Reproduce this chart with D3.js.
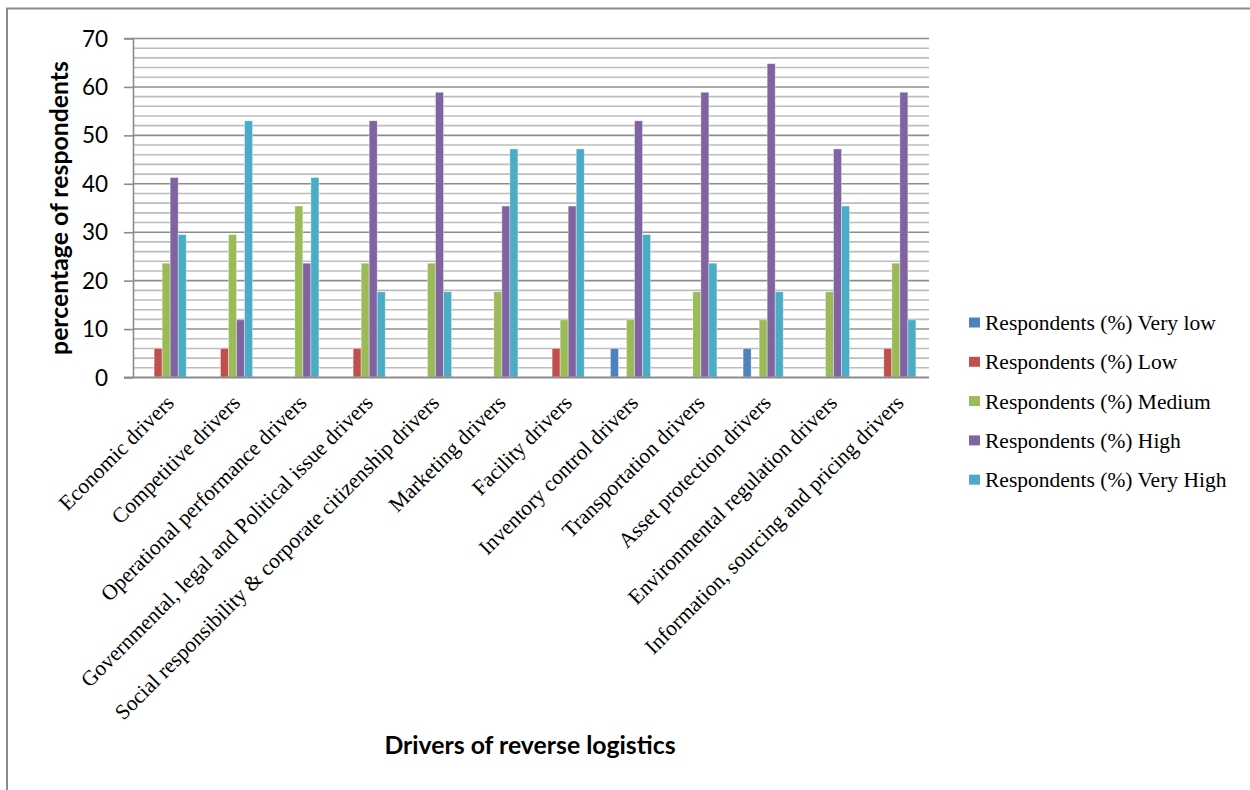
<!DOCTYPE html>
<html>
<head>
<meta charset="utf-8">
<script src="https://cdn.jsdelivr.net/npm/d3@7"></script>
<style>
  html, body { margin: 0; padding: 0; background: #fff; }
  svg { display: block; }
</style>
</head>
<body>
<svg id="chart" width="1250" height="790"></svg>
<script>
// Drivers of reverse logistics: share of respondents per rating level
const categories = [
  "Economic drivers",
  "Competitive drivers",
  "Operational performance drivers",
  "Governmental, legal and Political issue drivers",
  "Social responsibility & corporate citizenship drivers",
  "Marketing drivers",
  "Facility drivers",
  "Inventory control drivers",
  "Transportation drivers",
  "Asset protection drivers",
  "Environmental regulation drivers",
  "Information, sourcing and pricing drivers"
];
const seriesNames = [
  "Respondents (%) Very low",
  "Respondents (%) Low",
  "Respondents (%) Medium",
  "Respondents (%) High",
  "Respondents (%) Very High"
];
const veryLow  = [0, 0, 0, 0, 0, 0, 0, 5.9, 0, 5.9, 0, 0];
const low      = [5.9, 5.9, 0, 5.9, 0, 0, 5.9, 0, 0, 0, 0, 5.9];
const medium   = [23.5, 29.4, 35.3, 23.5, 23.5, 17.6, 11.8, 11.8, 17.6, 11.8, 17.6, 23.5];
const high     = [41.2, 11.8, 23.5, 52.9, 58.8, 35.3, 35.3, 52.9, 58.8, 64.7, 47.1, 58.8];
const veryHigh = [29.4, 52.9, 41.2, 17.6, 17.6, 47.1, 47.1, 29.4, 23.5, 17.6, 35.3, 11.8];
const seriesValues = [veryLow, low, medium, high, veryHigh];
const yTicks = [0, 10, 20, 30, 40, 50, 60, 70];
const colors = ["#4F81BD", "#C0504D", "#9BBB59", "#8064A2", "#4BACC6"];

const svg = d3.select("#chart");

// outer frame
svg.append("rect")
  .attr("x", 7).attr("y", 8.5)
  .attr("width", 1300).attr("height", 900)
  .attr("fill", "none").attr("stroke", "#8a8a8a").attr("stroke-width", 2);

const plot = { left: 133, right: 929, top: 38, bottom: 377 };

const x0 = d3.scaleBand()
  .domain(categories)
  .range([plot.left, plot.right])
  .paddingInner(0.395).paddingOuter(0.1975);
const x1 = d3.scaleBand()
  .domain(d3.range(seriesNames.length))
  .range([0, x0.bandwidth()]);
const y = d3.scaleLinear().domain([0, 70]).range([plot.bottom, plot.top]);

// minor gridlines every 2 units
const minor = d3.range(0, 71, 2).filter(v => v % 10 !== 0);
svg.append("g").selectAll("line").data(minor).join("line")
  .attr("x1", plot.left).attr("x2", plot.right)
  .attr("y1", d => y(d) + 0.5).attr("y2", d => y(d) + 0.5)
  .attr("stroke", "#bdbdbd").attr("stroke-width", 1.6);

// major gridlines every 10 units
svg.append("g").selectAll("line").data(yTicks.filter(v => v > 0)).join("line")
  .attr("x1", plot.left).attr("x2", plot.right)
  .attr("y1", d => y(d) + 0.5).attr("y2", d => y(d) + 0.5)
  .attr("stroke", "#8c8c8c").attr("stroke-width", 1.6);

// bars
const rows = categories.map((c, i) => ({ c, vals: seriesValues.map(s => s[i]) }));
const groups = svg.append("g").selectAll("g").data(rows).join("g")
  .attr("transform", d => `translate(${x0(d.c)},0)`);
groups.selectAll("rect")
  .data(d => d.vals.map((v, k) => ({ v, k })).filter(e => e.v > 0))
  .join("rect")
  .attr("x", d => x1(d.k))
  .attr("width", x1.bandwidth())
  .attr("y", d => y(d.v))
  .attr("height", d => y(0) - y(d.v))
  .attr("fill", d => colors[d.k])
  .attr("stroke", "rgba(255,255,255,0.45)")
  .attr("stroke-width", 0.8);

// y axis
const yAxis = d3.axisLeft(y).tickValues(yTicks).tickSize(9).tickPadding(16);
const gy = svg.append("g").attr("transform", `translate(${plot.left},0)`).call(yAxis);
gy.select(".domain").attr("stroke", "#8c8c8c").attr("stroke-width", 1.6)
  .attr("d", `M-9,${plot.top + 0.5}H0.5V${plot.bottom + 0.5}`);
gy.selectAll(".tick line").attr("stroke", "#8c8c8c").attr("stroke-width", 1.6)
  .attr("transform", "translate(0,0.5)");
gy.selectAll(".tick text")
  .attr("font-family", "Lato, 'Open Sans', sans-serif")
  .attr("font-size", 22.5).attr("fill", "#000").attr("dy", "0.36em");

// x axis baseline
svg.append("line")
  .attr("x1", plot.left - 9).attr("x2", plot.right)
  .attr("y1", plot.bottom + 0.5).attr("y2", plot.bottom + 0.5)
  .attr("stroke", "#8c8c8c").attr("stroke-width", 1.8);

// rotated category labels
svg.append("g").selectAll("text").data(categories).join("text")
  .attr("transform", d => `translate(${x0(d) + x0.bandwidth() / 2 + 9},${plot.bottom + 27}) rotate(-45)`)
  .attr("text-anchor", "end")
  .attr("font-family", "'Liberation Serif', 'Times New Roman', serif")
  .attr("font-size", 21.5)
  .attr("fill", "#000")
  .text(d => d);

// axis titles
svg.append("text")
  .attr("transform", `translate(68,208) rotate(-90)`)
  .attr("text-anchor", "middle")
  .attr("font-family", "Lato, 'Open Sans', sans-serif")
  .attr("font-weight", "bold").attr("font-size", 24.8)
  .text("percentage of respondents");

svg.append("text")
  .attr("x", 530).attr("y", 754)
  .attr("text-anchor", "middle")
  .attr("font-family", "Lato, 'Open Sans', sans-serif")
  .attr("font-weight", "bold").attr("font-size", 24.8)
  .text("Drivers of reverse logistics");

// legend
const legend = svg.append("g").selectAll("g").data(seriesNames).join("g")
  .attr("transform", (d, i) => `translate(969,${322.5 + i * 39.3})`);
legend.append("rect")
  .attr("x", 0).attr("y", -5).attr("width", 11).attr("height", 10)
  .attr("fill", (d, i) => colors[i]);
legend.append("text")
  .attr("x", 16).attr("y", 0).attr("dy", "0.35em")
  .attr("font-family", "'Liberation Serif', 'Times New Roman', serif")
  .attr("font-size", 21.5)
  .attr("fill", "#000")
  .text(d => d);
</script>
</body>
</html>
